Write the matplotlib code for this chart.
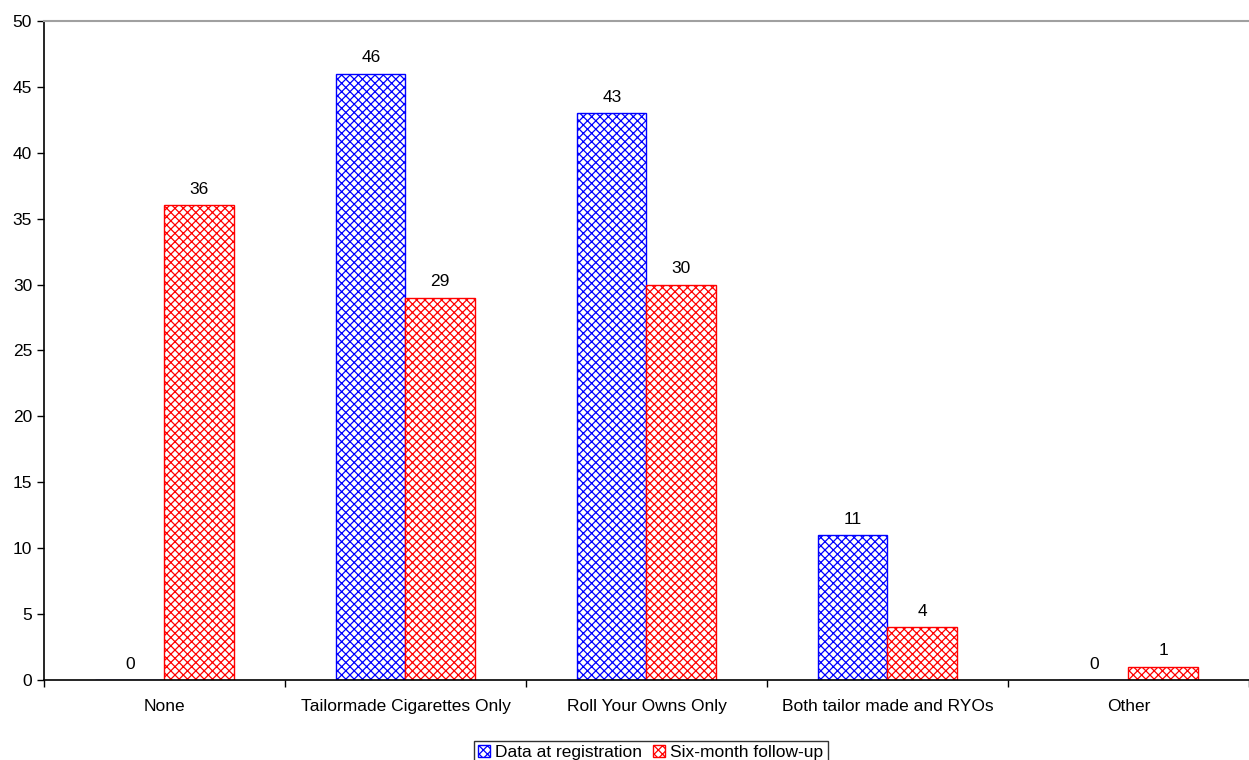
import matplotlib
matplotlib.use("Agg")
import matplotlib.pyplot as plt
import numpy as np

plt.rcParams['font.family'] = ['Liberation Sans', 'DejaVu Sans']
plt.rcParams['hatch.linewidth'] = 0.9

categories = ["None", "Tailormade Cigarettes Only", "Roll Your Owns Only",
              "Both tailor made and RYOs", "Other"]
registration = [0, 46, 43, 11, 0]
follow_up = [36, 29, 30, 4, 1]
series_names = ["Data at registration", "Six-month follow-up"]
y_ticks = [0, 5, 10, 15, 20, 25, 30, 35, 40, 45, 50]

FS = 12.5

fig = plt.figure(figsize=(12.49, 7.6), dpi=100)
ax = fig.add_axes([0.0352, 0.1053, 0.9648, 0.8671])

x = np.arange(len(categories))
w = 0.288

b1 = ax.bar(x - w / 2, registration, w, facecolor="white", edgecolor="#0000ff",
            hatch="xxxx", linewidth=1.0, label=series_names[0], zorder=2)
b2 = ax.bar(x + w / 2, follow_up, w, facecolor="white", edgecolor="#ff0000",
            hatch="xxxx", linewidth=1.0, label=series_names[1], zorder=2)

for bars, vals in ((b1, registration), (b2, follow_up)):
    for rect, v in zip(bars, vals):
        ax.annotate(str(v), (rect.get_x() + rect.get_width() / 2, v),
                    xytext=(0, 6), textcoords="offset points",
                    ha="center", va="bottom", fontsize=FS, color="black")

ax.set_ylim(0, 50)
ax.set_xlim(-0.5, 4.46)
ax.set_yticks(y_ticks)
ax.tick_params(axis="y", labelsize=FS, length=5, direction="out", width=1)
ax.set_xticks(np.arange(-0.5, 5.0, 1.0))
ax.set_xticklabels([])
ax.set_xticks(x, minor=True)
ax.set_xticklabels(categories, minor=True, fontsize=FS)
ax.tick_params(axis="x", which="major", length=5, direction="out", width=1)
ax.tick_params(axis="x", which="minor", length=0, pad=14)

ax.spines["top"].set_color("#a0a0a0")
ax.spines["top"].set_linewidth(1.5)
ax.spines["right"].set_visible(False)
ax.spines["left"].set_linewidth(1.2)
ax.spines["bottom"].set_linewidth(1.2)

leg = fig.legend(handles=[b1, b2], labels=series_names, loc="lower center",
                 bbox_to_anchor=(0.521, -0.006), ncol=2, fontsize=FS,
                 frameon=True, fancybox=False, edgecolor="black",
                 handlelength=0.7, handleheight=0.7, handletextpad=0.3,
                 columnspacing=0.6, borderpad=0.25, borderaxespad=0)
leg.get_frame().set_linewidth(1.0)

fig.savefig("out.png", dpi=100)
